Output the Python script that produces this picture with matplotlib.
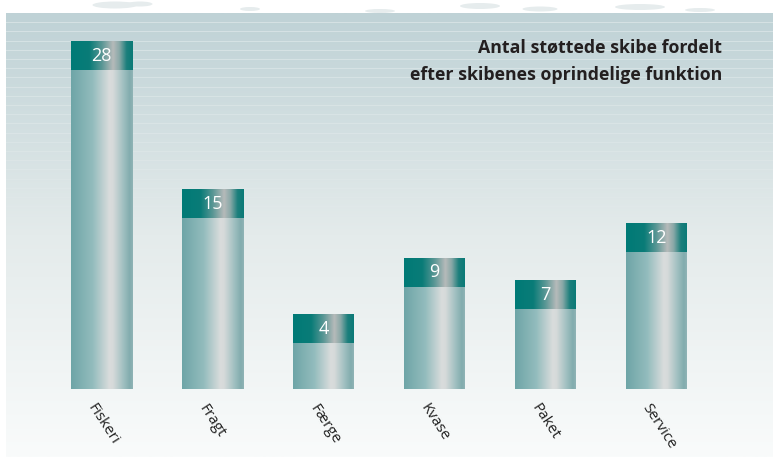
import numpy as np
import matplotlib
matplotlib.use("Agg")
import matplotlib.pyplot as plt
from matplotlib.colors import LinearSegmentedColormap

categories = ["Fiskeri", "Fragt", "Færge", "Kvase", "Paket", "Service"]
values = [28, 15, 4, 9, 7, 12]
title = "Antal støttede skibe fordelt\nefter skibenes oprindelige funktion"

plt.rcParams['font.family'] = ['Open Sans', 'DejaVu Sans']

W, H = 773, 457
fig = plt.figure(figsize=(W / 100, H / 100), dpi=100)
fig.patch.set_facecolor("white")

# a few pale splotches outside the panel
deco = fig.add_axes([0, 0, 1, 1])
deco.set_xlim(0, W)
deco.set_ylim(H, 0)
deco.axis("off")
for cx, cy, w, h in [(115, 5, 45, 7), (140, 4, 25, 5), (480, 6, 40, 6), (540, 9, 35, 5),
                     (640, 7, 50, 6), (700, 10, 30, 4), (380, 11, 30, 4), (250, 9, 20, 4)]:
    deco.add_patch(matplotlib.patches.Ellipse((cx, cy), w, h, color="#e6eced", lw=0))

# main axes = the panel
left_px, top_px = 6, 13
ax = fig.add_axes([left_px / W, 0, 1 - left_px / W, (H - top_px) / H])
px_per_unit = 11.38
base_px = 389
xlo = (left_px - 101.5) / 111
xhi = (W - 101.5) / 111
ylo = -(H - base_px) / px_per_unit
yhi = (base_px - top_px) / px_per_unit

bg = LinearSegmentedColormap.from_list("bg", ["#f9fbfb", "#e4ebeb", "#bfd2d6"])
grad = np.linspace(0, 1, 256).reshape(-1, 1)
ax.imshow(grad, cmap=bg, extent=[xlo, xhi, ylo, yhi], aspect="auto", origin="lower", zorder=0)
for k in range(22):
    y = yhi - (9.2 * (k + 1)) / px_per_unit
    ax.axhline(y, color="white", lw=0.7, alpha=0.35 * (1 - k / 24), zorder=1)

body_cmap = LinearSegmentedColormap.from_list(
    "body", [(0, "#6ea5a7"), (0.35, "#93bcbd"), (0.62, "#d9dcdc"), (0.68, "#d6dada"),
             (0.85, "#9fbfc0"), (0.95, "#82acae"), (1, "#8fb3b5")])
cap_cmap = LinearSegmentedColormap.from_list(
    "cap", [(0, "#007a76"), (0.3, "#0a7c78"), (0.5, "#5a9795"), (0.68, "#b6baba"),
            (0.78, "#8aa9a8"), (0.9, "#1c7f7c"), (1, "#0a7a77")])
row = np.linspace(0, 1, 256).reshape(1, -1)

bw = 61 / 111
cap_h = 28.3 / px_per_unit
for i, (cat, v) in enumerate(zip(categories, values)):
    x0, x1 = i - bw / 2, i + bw / 2
    ax.imshow(row, cmap=body_cmap, extent=[x0, x1, 0, v], aspect="auto", zorder=2)
    ax.imshow(row, cmap=cap_cmap, extent=[x0, x1, v, v + cap_h], aspect="auto", zorder=2)
    ax.text(i, v + cap_h / 2, str(v), color="white", fontsize=13,
            ha="center", va="center", zorder=3)
    ax.text(i - 0.1, -1.45, cat, rotation=-57, rotation_mode="anchor", ha="left",
            va="center", fontsize=11, color="#222222", zorder=3)

ax.text((722 - 101.5) / 111, (base_px - 61) / px_per_unit, title, ha="right", va="center",
        fontsize=12.8, fontweight="bold", color="#231f20", linespacing=1.7, zorder=3)

ax.set_xlim(xlo, xhi)
ax.set_ylim(ylo, yhi)
ax.axis("off")

fig.savefig("out.png", dpi=100)
